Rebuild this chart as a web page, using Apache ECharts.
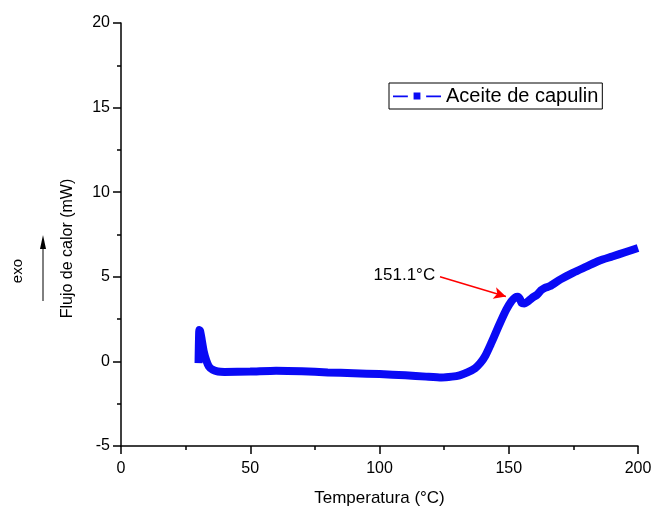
<!DOCTYPE html>
<html>
<head>
<meta charset="utf-8">
<script src="https://cdn.jsdelivr.net/npm/echarts@6/dist/echarts.min.js"></script>
<style>
  html, body { margin: 0; padding: 0; background: #fff; }
  #chart { width: 655px; height: 506px; }
</style>
</head>
<body>
<div id="chart"></div>
<script>
// DSC curve
const temperature = [30.0, 30.3, 30.6, 31.2, 32, 33, 34, 35.5, 37.5, 40, 50, 60, 70, 80, 90, 100, 110, 118, 124, 128, 131, 134, 137, 139, 141, 143, 145, 147, 149, 151, 152.5, 153.5, 154.3, 155, 156, 157.5, 159, 161, 162.5, 164, 166, 170, 175, 180, 185, 190, 195, 200];
const heatFlow = [-0.1, 1.85, 1.8, 1.3, 0.6, 0.05, -0.3, -0.5, -0.6, -0.62, -0.6, -0.55, -0.58, -0.65, -0.7, -0.75, -0.82, -0.9, -0.95, -0.9, -0.82, -0.65, -0.4, -0.1, 0.35, 1.0, 1.7, 2.4, 3.05, 3.55, 3.78, 3.82, 3.7, 3.45, 3.42, 3.55, 3.75, 3.95, 4.2, 4.35, 4.45, 4.85, 5.25, 5.6, 5.95, 6.2, 6.45, 6.7];

const seriesName = "Aceite de capulin";
const peakLabel = "151.1°C";
const arrowFrom = [123.4, 5.0];
const arrowTo = [148.9, 3.84];

const chart = echarts.init(document.getElementById("chart"));
const font = "Liberation Sans, Arial, sans-serif";

const option = {
    backgroundColor: "#fff",
    animation: false,
    textStyle: { fontFamily: font },
    grid: { left: 121, right: 17, top: 23, bottom: 60, outerBoundsMode: "none" },
    legend: {
        left: 389,
        top: 83,
        borderColor: "#000",
        borderWidth: 1,
        borderRadius: 0,
        padding: [3, 4, 3, 4],
        itemWidth: 48,
        itemHeight: 9,
        icon: "path://M0,4H13V5.5H0Z M18,1.5H24V7.5H18Z M29,4H42V5.5H29Z",
        textStyle: { fontSize: 20, color: "#000", fontFamily: font },
        data: [seriesName],
    },
    xAxis: {
        type: "value",
        min: 0,
        max: 200,
        interval: 50,
        name: "Temperatura (°C)",
        nameLocation: "middle",
        nameGap: 44,
        nameTextStyle: { fontSize: 17, color: "#000" },
        axisLine: { onZero: false, lineStyle: { color: "#000", width: 1.5 } },
        axisTick: { length: 8, lineStyle: { color: "#000", width: 1.5 } },
        minorTick: { show: true, splitNumber: 2, length: 4, lineStyle: { color: "#000", width: 1.5 } },
        axisLabel: { fontSize: 16, color: "#000", margin: 15 },
        splitLine: { show: false },
    },
    yAxis: {
        type: "value",
        min: -5,
        max: 20,
        interval: 5,
        name: "Flujo de calor (mW)",
        nameLocation: "middle",
        nameGap: 45,
        nameTextStyle: { fontSize: 16, color: "#000", padding: [0, 28, 0, 0] },
        axisLine: { show: true, onZero: false, lineStyle: { color: "#000", width: 1.5 } },
        axisTick: { show: true, length: 8, lineStyle: { color: "#000", width: 1.5 } },
        minorTick: { show: true, splitNumber: 2, length: 4, lineStyle: { color: "#000", width: 1.5 } },
        axisLabel: { fontSize: 16, color: "#000", margin: 11 },
        splitLine: { show: false },
    },
    graphic: [
        {
            type: "text",
            left: 10,
            top: 259,
            rotation: Math.PI / 2,
            style: { text: "exo", fontSize: 15, fill: "#000", fontFamily: font },
        },
        {
            type: "line",
            shape: { x1: 43, y1: 301, x2: 43, y2: 246 },
            style: { stroke: "#000", lineWidth: 1 },
        },
        {
            type: "polygon",
            shape: { points: [[43, 235], [40, 249], [46, 249]] },
            style: { fill: "#000" },
        },
    ],
    series: [
        {
            name: seriesName,
            type: "line",
            smooth: 0.2,
            showSymbol: false,
            color: "#0a0af5",
            lineStyle: { color: "#0a0af5", width: 8 },
            data: temperature.map((t, i) => [t, heatFlow[i]]),
            markLine: {
                silent: true,
                symbol: ["none", "arrow"],
                symbolSize: [9, 12],
                lineStyle: { color: "#ff0000", width: 1.5, type: "solid" },
                label: {
                    show: true,
                    position: "start",
                    distance: 5,
                    formatter: peakLabel,
                    fontSize: 17,
                    color: "#000",
                    fontFamily: font,
                },
                data: [[{ coord: arrowFrom }, { coord: arrowTo }]],
            },
        },
    ],
};

chart.setOption(option);
</script>
</body>
</html>
